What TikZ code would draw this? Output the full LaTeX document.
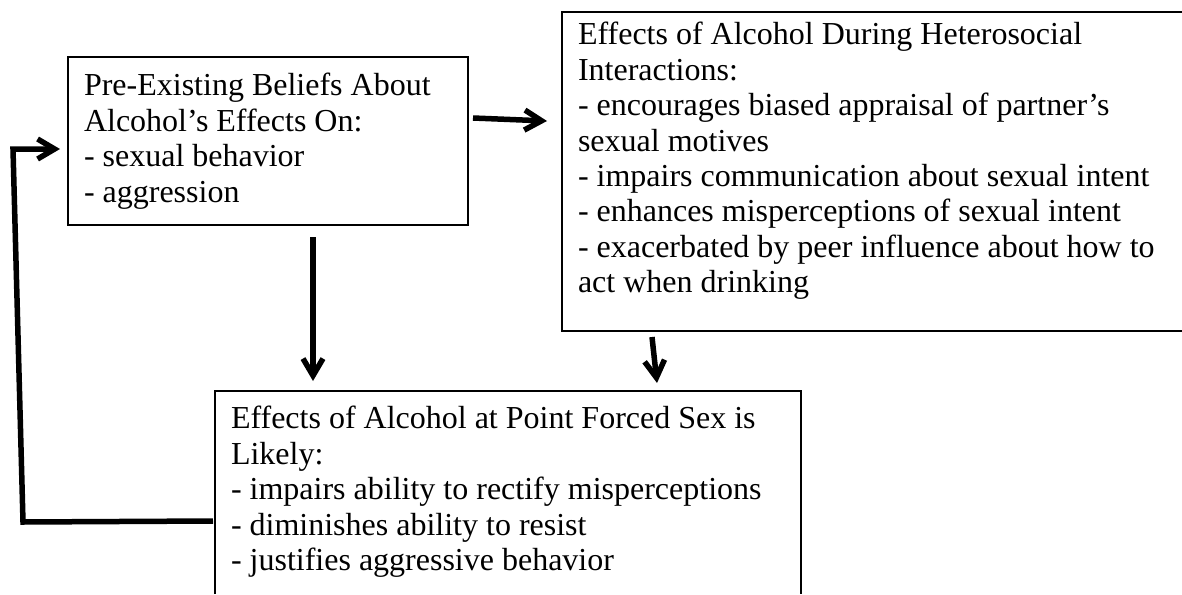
\documentclass[tikz,border=0pt]{standalone}
\usepackage{fontspec}
\setmainfont{Liberation Serif}
\usetikzlibrary{arrows.meta,calc}
\begin{document}
\begin{tikzpicture}[x=1pt,y=-1pt,
  box/.style={draw=black,line width=1.3pt,rectangle,outer sep=0pt,inner sep=0pt,anchor=north west},
  openbox/.style={rectangle,outer sep=0pt,inner sep=0pt,anchor=north west},
  edge/.style={draw=black,line width=1.3pt},
  txt/.style={anchor=north west,inner sep=0pt,outer sep=0pt,align=left,font=\fontsize{32}{35.4}\selectfont},
  conn/.style={line width=5.5pt,line join=miter,-{Straight Barb[length=17pt,width=20pt]}}]
\useasboundingbox (0,0) rectangle (1182,594);
% boxes
\node[box,minimum width=400pt,minimum height=168pt] (A) at (68,57) {};
\node[openbox,minimum width=620pt,minimum height=319pt] (B) at (562,12) {};
\node[openbox,minimum width=586pt,minimum height=203pt] (C) at (215,391) {};
\draw[edge] (B.north east) -- (B.north west) -- (B.south west) -- (B.south east);
\draw[edge] (C.south west) -- (C.north west) -- (C.north east) -- (C.south east);
% texts
\node[txt] (Atext) at (84,71.2) {\strut Pre-Existing Beliefs About\\Alcohol’s Effects On:\\- sexual behavior\\- aggression};
\node[txt] (Btext) at (578,20.2) {\strut Effects of Alcohol During Heterosocial\\Interactions:\\- encourages biased appraisal of partner’s\\sexual motives\\- impairs communication about sexual intent\\- enhances misperceptions of sexual intent\\- exacerbated by peer influence about how to\\act when drinking};
\node[txt] (Ctext) at (231,404.2) {\strut Effects of Alcohol at Point Forced Sex is\\Likely:\\- impairs ability to rectify misperceptions\\- diminishes ability to resist\\- justifies aggressive behavior};
% connectors
\draw[conn] ($(A.north east)+(5,61)$) -- ($(B.north west)+(-15,109)$);
\draw[conn] ($(A.south west)+(245,12)$) -- ($(C.north west)+(98,-10)$);
\draw[conn] ($(B.south west)+(90,6)$) -- ($(C.north west)+(442,-8)$);
\draw[conn] ($(C.north west)+(-2,130)$) -- ($(C.north west)+(-192,131)$) -- ($(A.north west)+(-55,92)$) -- ($(A.north west)+(-8,92)$);
\end{tikzpicture}
\end{document}
